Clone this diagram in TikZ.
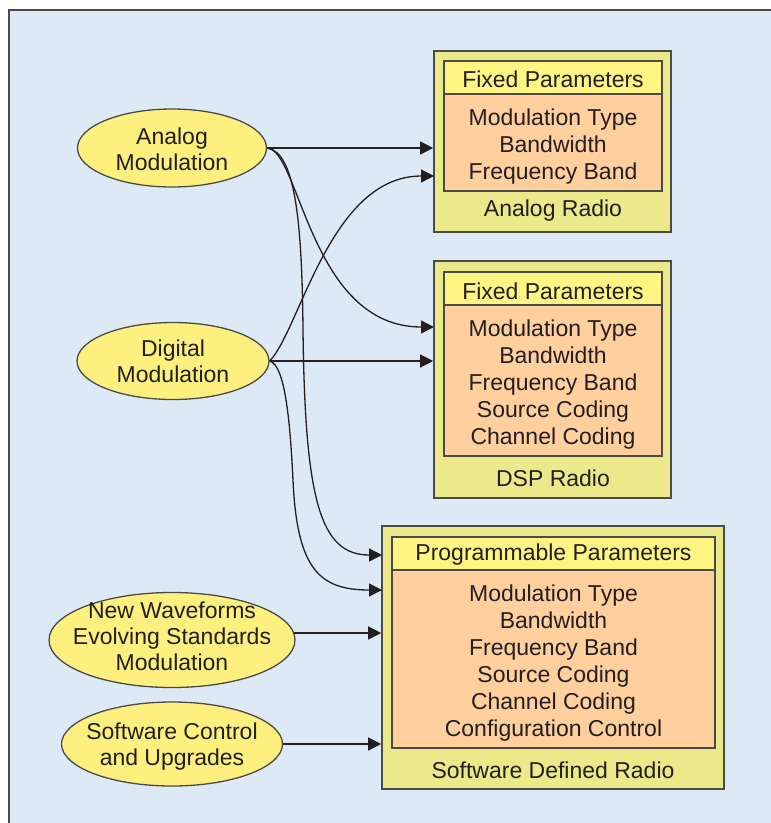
\documentclass[tikz,border=0pt]{standalone}
\usepackage{fontspec}
\setmainfont{Liberation Sans}
\usetikzlibrary{arrows.meta,shapes.geometric}

\definecolor{bgblue}{HTML}{DDEAF6}
\definecolor{ovalyellow}{HTML}{FDF07E}
\definecolor{radiogreen}{HTML}{EBE98A}
\definecolor{headyellow}{HTML}{FFF582}
\definecolor{bodypeach}{HTML}{FFCF9E}
\definecolor{edge}{HTML}{4A4A4A}
\definecolor{ink}{HTML}{231F20}

\begin{document}
\begin{tikzpicture}[x=1pt,y=-1pt,
  every node/.style={text=ink, font=\fontsize{23}{27}\selectfont},
  oval/.style={ellipse, draw=edge, line width=1.3pt, fill=ovalyellow, inner sep=0pt},
  ovaltext/.style={align=center, inner sep=0pt, font=\fontsize{23}{26}\selectfont},
  radiobox/.style={rectangle, draw=edge, line width=1.6pt, fill=radiogreen, inner sep=0pt},
  headbox/.style={rectangle, draw=edge, line width=1.6pt, fill=headyellow, inner sep=0pt},
  bodybox/.style={rectangle, draw=edge, line width=1.6pt, fill=bodypeach, inner sep=0pt},
  txt/.style={align=center, inner sep=0pt},
  link/.style={draw=ink, line width=1.3pt, -{Triangle[length=13pt,width=13pt]}},
]
\useasboundingbox (0,0) rectangle (771,823);

% page background and frame
\fill[white] (0,0) rectangle (771,823);
\fill[bgblue] (9,10) rectangle (771,823);
\draw[edge, line width=1.6pt] (9,823) -- (9,10) -- (771,10);

% ---- Analog Radio
\node[radiobox, minimum width=237pt, minimum height=181pt] (ar) at (552.5,141.5) {};
\node[headbox, minimum width=218pt, minimum height=33pt] (arh) at (553,77.5) {};
\node[bodybox, minimum width=218pt, minimum height=97pt] (arb) at (553,142.5) {};
\node[txt] (arht) at (553,79) {Fixed Parameters};
\node[txt] (arbt) at (553,147) {Modulation Type\\Bandwidth\\Frequency Band};
\node[txt] (arl) at (553,211) {Analog Radio};

% ---- DSP Radio
\node[radiobox, minimum width=237pt, minimum height=237pt] (dsp) at (552.5,379.5) {};
\node[headbox, minimum width=218pt, minimum height=33pt] (dsph) at (553,288.5) {};
\node[bodybox, minimum width=218pt, minimum height=151pt] (dspb) at (553,380.5) {};
\node[txt] (dspht) at (553,291) {Fixed Parameters};
\node[txt] (dspbt) at (553,385) {Modulation Type\\Bandwidth\\Frequency Band\\Source Coding\\Channel Coding};
\node[txt] (dspl) at (553,478) {DSP Radio};

% ---- Software Defined Radio
\node[radiobox, minimum width=342pt, minimum height=263pt] (sdr) at (553,657.5) {};
\node[headbox, minimum width=323pt, minimum height=33pt] (sdrh) at (553.5,553.5) {};
\node[bodybox, minimum width=323pt, minimum height=178pt] (sdrb) at (553.5,659) {};
\node[txt] (sdrht) at (553.5,555) {Programmable Parameters};
\node[txt] (sdrbt) at (553.5,663) {Modulation Type\\Bandwidth\\Frequency Band\\Source Coding\\Channel Coding\\Configuration Control};
\node[txt] (sdrl) at (553,770) {Software Defined Radio};

% ---- sources
\node[oval, minimum width=189pt, minimum height=78pt] (am) at (172,148) {};
\node[ovaltext] (amt) at (172,149) {Analog\\Modulation};
\node[oval, minimum width=192pt, minimum height=77pt] (dm) at (173,361) {};
\node[ovaltext] (dmt) at (173,361) {Digital\\Modulation};
\node[oval, minimum width=246pt, minimum height=95pt] (nw) at (172,640) {};
\node[ovaltext] (nwt) at (172,636) {New Waveforms\\Evolving Standards\\Modulation};
\node[oval, minimum width=221pt, minimum height=84pt] (sc) at (172,744) {};
\node[ovaltext] (sct) at (172,747) {Software Control\\and Upgrades};

% entry points on the radio boxes
\coordinate (ar-in2) at (434,176);
\coordinate (dsp-in1) at (434,327);
\coordinate (sdr-in1) at (382,555);
\coordinate (sdr-in2) at (382,590);
\coordinate (nw-out) at (294,633);

% ---- connectors
\draw[link] (am.east) -- (am.east -| ar.west);
\draw[link] (am.east) .. controls (300,150) and (310,327) .. (dsp-in1);
\draw[link] (am.east) .. controls (295,152) and (302,220) .. (303,330)
                      .. controls (305,500) and (320,555) .. (sdr-in1);
\draw[link] (dm.east) .. controls (300,330) and (330,176) .. (ar-in2);
\draw[link] (dm.east) -- (dm.east -| dsp.west);
\draw[link] (dm.east) .. controls (285,365) and (290,420) .. (293,480)
                      .. controls (297,570) and (320,590) .. (sdr-in2);
\draw[link] (nw-out) -- (nw-out -| sdr.west);
\draw[link] (sc.east) -- (sc.east -| sdr.west);
\end{tikzpicture}
\end{document}
